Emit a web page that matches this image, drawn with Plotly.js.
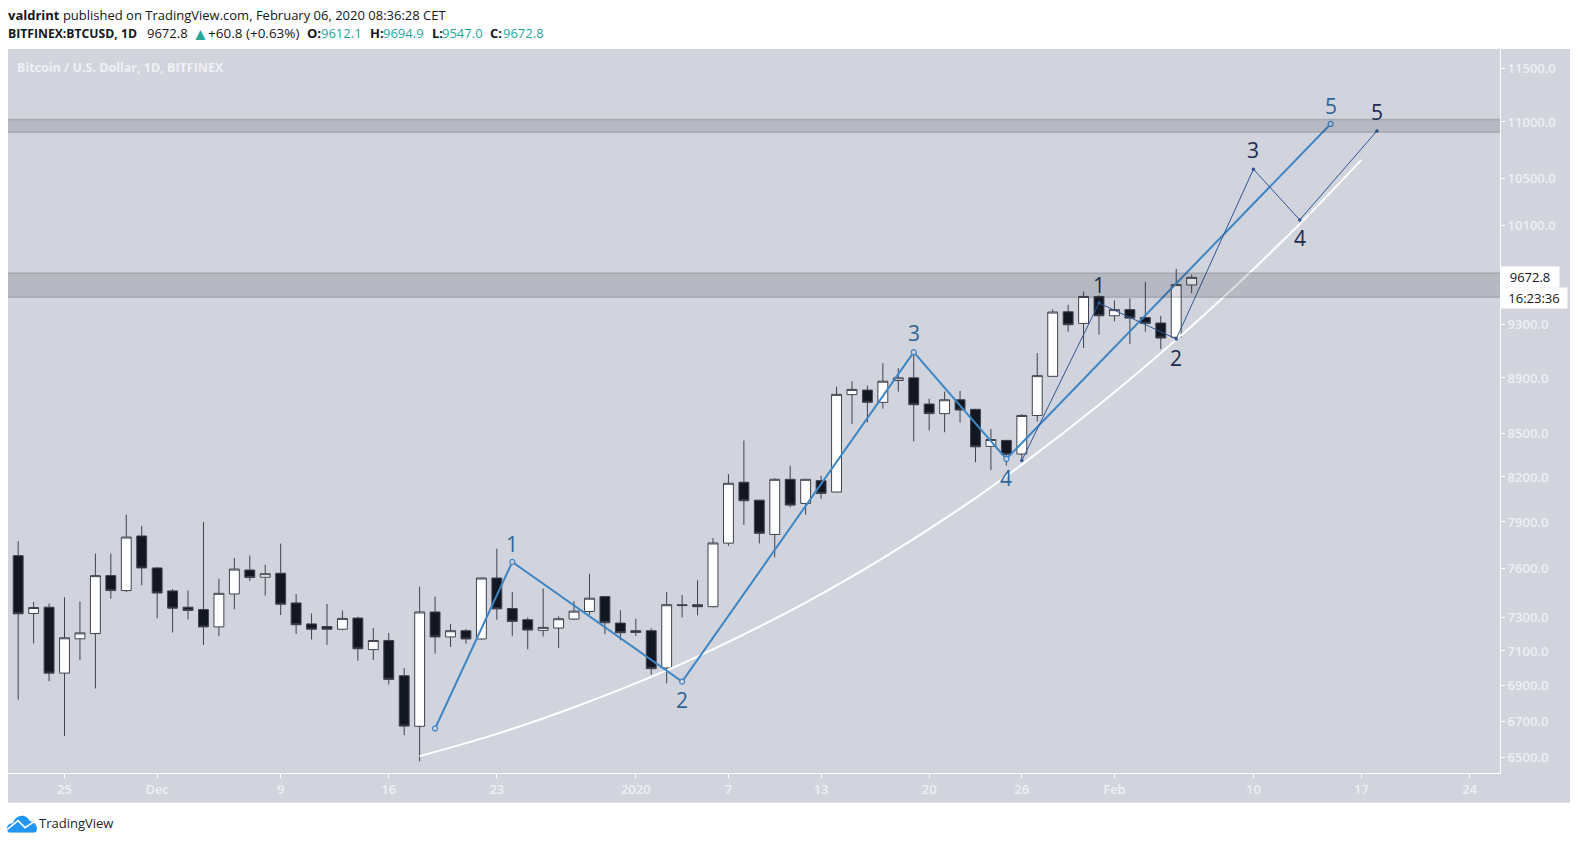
<!DOCTYPE html>
<html><head><meta charset="utf-8">
<script src="https://cdn.plot.ly/plotly-3.0.1.min.js"></script>
<style>html,body{margin:0;padding:0;background:#fff}#c{width:1578px;height:844px}</style>
</head><body><div id="c"></div>
<script>
const dates = ['2019-11-22','2019-11-23','2019-11-24','2019-11-25','2019-11-26','2019-11-27','2019-11-28','2019-11-29','2019-11-30','2019-12-01','2019-12-02','2019-12-03','2019-12-04','2019-12-05','2019-12-06','2019-12-07','2019-12-08','2019-12-09','2019-12-10','2019-12-11','2019-12-12','2019-12-13','2019-12-14','2019-12-15','2019-12-16','2019-12-17','2019-12-18','2019-12-19','2019-12-20','2019-12-21','2019-12-22','2019-12-23','2019-12-24','2019-12-25','2019-12-26','2019-12-27','2019-12-28','2019-12-29','2019-12-30','2019-12-31','2020-01-01','2020-01-02','2020-01-03','2020-01-04','2020-01-05','2020-01-06','2020-01-07','2020-01-08','2020-01-09','2020-01-10','2020-01-11','2020-01-12','2020-01-13','2020-01-14','2020-01-15','2020-01-16','2020-01-17','2020-01-18','2020-01-19','2020-01-20','2020-01-21','2020-01-22','2020-01-23','2020-01-24','2020-01-25','2020-01-26','2020-01-27','2020-01-28','2020-01-29','2020-01-30','2020-01-31','2020-02-01','2020-02-02','2020-02-03','2020-02-04','2020-02-05','2020-02-06'];
const opens = [7683,7324,7362,6971,7172,7203,7557,7464,7809,7605,7462,7362,7348,7243,7443,7592,7547,7572,7388,7261,7245,7229,7296,7108,7162,6956,6671,7333,7183,7220,7171,7542,7354,7286,7222,7236,7290,7336,7427,7266,7220,7220,7001,7377,7377,7365,7763,8164,8044,7819,8184,8022,8175,8098,8778,8811,8722,8881,8901,8710,8641,8741,8672,8410,8452,8357,8628,8912,9401,9311,9521,9370,9418,9357,9314,9205,9612.1];
const highs = [7775,7394,7384,7422,7396,7696,7696,7948,7874,7611,7474,7464,7900,7538,7668,7683,7626,7760,7443,7324,7382,7342,7304,7237,7207,7000,7488,7427,7260,7230,7545,7727,7455,7300,7476,7306,7400,7568,7427,7343,7292,7234,7455,7437,7528,7795,8219,8451,8044,8191,8277,8184,8208,8836,8876,8844,9010,8973,9106,8750,8800,8805,8676,8532,8451,8638,9085,9420,9456,9559,9530,9490,9506,9636,9370,9741,9694.9];
const lows = [6820,7144,6925,6617,7046,6883,7414,7454,7497,7295,7209,7288,7136,7187,7350,7524,7433,7314,7201,7168,7136,7223,7043,7046,6906,6622,6480,7084,7124,7143,7167,7286,7188,7110,7186,7118,7286,7316,7200,7163,7188,6963,6913,7300,7313,7361,7746,7881,7761,7672,7995,7948,8053,8098,8568,8578,8676,8800,8445,8522,8509,8578,8300,8247,8277,8313,8586,8912,9247,9122,9225,9327,9155,9247,9115,9181,9547];
const closes = [7322,7360,6971,7178,7207,7557,7464,7802,7605,7449,7356,7342,7243,7447,7598,7545,7569,7380,7256,7229,7229,7294,7113,7162,6935,6672,7333,7183,7220,7171,7542,7352,7276,7224,7240,7292,7338,7417,7268,7208,7210,6997,7377,7372,7365,7764,8157,8040,7826,8184,8011,8184,8089,8780,8816,8722,8876,8901,8705,8641,8741,8667,8407,8458,8354,8628,8917,9399,9301,9521,9370,9418,9352,9311,9199,9615,9672.8];

const blueDates = ['2019-12-19','2019-12-24','2020-01-04','2020-01-19','2020-01-25','2020-02-15'];
const bluePrices = [6659,7643,6922,9092,8323,10982];
const blueLabels = ['', '1','2','3','4','5'];
const blueShifts = [0,18,-18,19,-19,18];

const darkDates = ['2020-01-26','2020-01-31','2020-02-05','2020-02-10','2020-02-13','2020-02-18'];
const darkPrices = [8312,9469,9192,10578,10144,10919];
const darkLabels = ['', '1','2','3','4','5'];
const darkShifts = [0,18,-19,19,-18,19];

const curveDates = ['2019-12-18','2019-12-23','2019-12-28','2020-01-02','2020-01-06','2020-01-12','2020-01-17','2020-01-22','2020-01-26','2020-01-31','2020-02-05','2020-02-09','2020-02-13','2020-02-17'];
const curvePrices = [6508,6629,6777,6949,7110,7390,7667,7988,8284,8705,9186,9622,10110,10661];

const zoneUpper = [10907,11023];
const zoneLower = [9515,9707];

const priceTicks = [11500,11000,10500,10100,9300,8900,8500,8200,7900,7600,7300,7100,6900,6700,6500];
const priceTickText = ['11500.0','11000.0','10500.0','10100.0','9300.0','8900.0','8500.0','8200.0','7900.0','7600.0','7300.0','7100.0','6900.0','6700.0','6500.0'];
const dateTicks = ['2019-11-25','2019-12-01','2019-12-09','2019-12-16','2019-12-23','2020-01-01','2020-01-07','2020-01-13','2020-01-20','2020-01-26','2020-02-01','2020-02-10','2020-02-17','2020-02-24'];
const dateTickText = ['25','Dec','9','16','23','2020','7','13','20','26','Feb','10','17','24'];

const PL=8, PR=1500, PT=49, PB=773.3;
const px = x => (x-PL)/(PR-PL);
const py = y => (PB-y)/(PB-PT);
const UI = '"Open Sans", sans-serif';
const TEAL = '#26a69a', INK = '#131722';
const BLUE = '#3d86c6', BLUE_TXT='#2f6497', NAVY='#2f5597', NAVY_TXT='#1c2b4e';

const traces = [
 {type:'candlestick',x:dates,open:opens,high:highs,low:lows,close:closes,showlegend:false,hoverinfo:'skip',whiskerwidth:0,
  increasing:{line:{color:'#3f424e',width:1},fillcolor:'#ffffff'},
  decreasing:{line:{color:'#3f424e',width:1},fillcolor:'#131722'}},
 {type:'scatter',mode:'lines',x:curveDates,y:curvePrices,line:{color:'#ffffff',width:2,shape:'spline',smoothing:1},showlegend:false,hoverinfo:'skip'},
 {type:'scatter',mode:'lines+markers',x:blueDates,y:bluePrices,line:{color:BLUE,width:2},
  marker:{size:5,color:'#d1d4dc',line:{color:BLUE,width:1.2}},showlegend:false,hoverinfo:'skip'},
 {type:'scatter',mode:'lines+markers',x:darkDates,y:darkPrices,line:{color:NAVY,width:1},
  marker:{size:3.5,color:NAVY},showlegend:false,hoverinfo:'skip'}
];

const ann = [];
const mk = (d,p,t,s,c)=>{ if(t) ann.push({x:d,y:Math.log10(p),xref:'x',yref:'y',text:t,showarrow:false,xanchor:'center',yanchor:'middle',yshift:s,font:{family:UI,size:21,color:c}}); };
blueDates.forEach((d,i)=>mk(d,bluePrices[i],blueLabels[i],blueShifts[i],BLUE_TXT));
darkDates.forEach((d,i)=>mk(d,darkPrices[i],darkLabels[i],darkShifts[i],NAVY_TXT));
const free = (x,y,text,size,color)=>ann.push({xref:'paper',yref:'paper',x:px(x),y:py(y),xanchor:'left',yanchor:'middle',text,showarrow:false,align:'left',font:{family:UI,size,color},borderpad:0});
free(7,15,'<b>valdrint</b> published on TradingView.com, February 06, 2020 08:36:28 CET',13,INK);
const Y2=33, F2=13;
free(7,Y2,'<b>BITFINEX:BTCUSD, 1D</b>',12.2,INK);
free(146,Y2,'9672.8',F2,INK);
free(191,Y2,'▲',17,TEAL);
free(207,Y2,'+60.8 (+0.63%)',13.5,INK);
free(306,Y2,'<b>O:</b>',F2,INK); free(320,Y2,'9612.1',F2,TEAL);
free(368.5,Y2,'<b>H:</b>',F2,INK); free(382,Y2,'9694.9',F2,TEAL);
free(431,Y2,'<b>L:</b>',F2,INK); free(441,Y2,'9547.0',F2,TEAL);
free(489,Y2,'<b>C:</b>',F2,INK); free(502,Y2,'9672.8',F2,TEAL);
free(16,68,'<b>Bitcoin / U.S. Dollar, 1D, BITFINEX</b>',12.5,'#eff1f5');
free(38,823,'TradingView',13,'#1e222d');
ann.push({xref:'paper',yref:'y',x:1,y:Math.log10(closes[closes.length-1]),xanchor:'left',yanchor:'middle',text:'9672.8',showarrow:false,width:58,height:20,bgcolor:'#ffffff',align:'center',borderpad:0,font:{family:UI,size:13,color:'#131722'}});
ann.push({xref:'paper',yref:'y',x:1,y:Math.log10(closes[closes.length-1]),xanchor:'left',yanchor:'middle',yshift:-21,text:'16:23:36',showarrow:false,width:66,height:20,bgcolor:'#ffffff',align:'center',borderpad:0,font:{family:UI,size:13,color:'#131722'}});

const zone = z=>[
 {type:'rect',xref:'paper',yref:'y',x0:0,x1:1,y0:z[0],y1:z[1],layer:'above',fillcolor:'rgba(19,23,34,0.14)',line:{width:0}},
 {type:'line',xref:'paper',yref:'y',x0:0,x1:1,y0:z[0],y1:z[0],layer:'above',line:{color:'rgba(70,73,84,0.22)',width:1.5}},
 {type:'line',xref:'paper',yref:'y',x0:0,x1:1,y0:z[1],y1:z[1],layer:'above',line:{color:'rgba(70,73,84,0.22)',width:1.5}}
];
const shapes = [
 {type:'rect',xref:'paper',yref:'paper',x0:0,x1:px(1570),y0:py(803),y1:1,layer:'below',fillcolor:'#d1d4dc',line:{width:0}},
 ...zone(zoneUpper),...zone(zoneLower)
];

const logo = 'data:image/svg+xml;utf8,'+encodeURIComponent('<svg xmlns="http://www.w3.org/2000/svg" viewBox="0 0 30 18"><path fill="#2196f3" d="M0 14 C0 10 3 8.5 6 8.5 C7 4 11 1 15 1 C19 1 21.5 3.5 23 6.5 C27 7 30 10 30 14 C30 16 29 18 27 18 L3 18 C1 18 0 16 0 14 Z"/><path fill="none" stroke="#fff" stroke-width="1.6" d="M0 15 L11 6 L18 13 L30 5"/></svg>');

const layout = {
 width:1578,height:844,autosize:false,
 margin:{l:PL,r:1578-PR,t:PT,b:844-PB,pad:0},
 paper_bgcolor:'#ffffff',plot_bgcolor:'#d1d4dc',showlegend:false,boxgap:0.36,boxgroupgap:0,
 font:{family:UI},
 xaxis:{type:'date',range:['2019-11-21 08:10','2020-02-25 23:17'],rangeslider:{visible:false},
  tickmode:'array',tickvals:dateTicks,ticktext:dateTickText,ticks:'outside',ticklen:4,tickwidth:1,tickcolor:'#ffffff',
  tickfont:{family:UI,size:13,color:'#eef0f5',weight:600},showgrid:false,zeroline:false,showline:true,linecolor:'#ffffff',linewidth:1,fixedrange:true},
 yaxis:{type:'log',side:'right',range:[Math.log10(6418),Math.log10(11685)],
  tickmode:'array',tickvals:priceTicks,ticktext:priceTickText,ticks:'outside',ticklen:4,tickwidth:1,tickcolor:'#ffffff',
  tickfont:{family:UI,size:13,color:'#eef0f5',weight:600},showgrid:false,zeroline:false,showline:true,linecolor:'#ffffff',linewidth:1,fixedrange:true},
 shapes,annotations:ann,
 images:[{source:logo,xref:'paper',yref:'paper',x:px(7),y:py(815),sizex:30/(PR-PL),sizey:18/(PB-PT),xanchor:'left',yanchor:'top',sizing:'stretch',layer:'above'}]
};
Plotly.newPlot('c',traces,layout,{displayModeBar:false,staticPlot:true});
</script></body></html>
